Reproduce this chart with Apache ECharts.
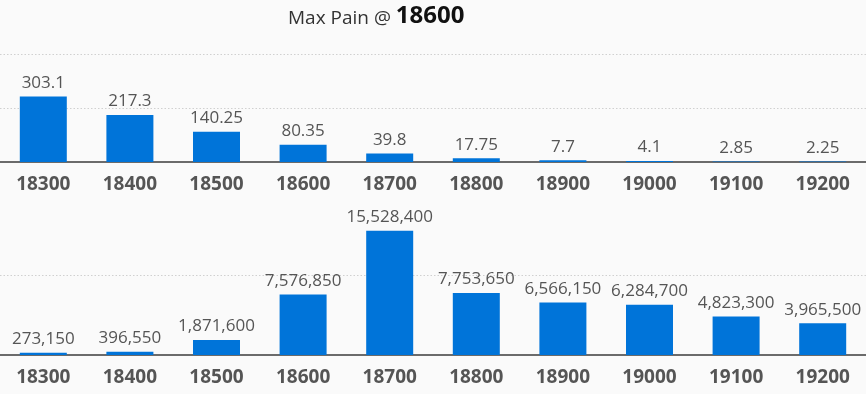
<!DOCTYPE html>
<html>
<head>
<meta charset="utf-8">
<script src="https://cdn.jsdelivr.net/npm/echarts@6/dist/echarts.min.js"></script>
<style>
html,body{margin:0;padding:0;background:#fafafa;}
#c{width:866px;height:394px;}
</style>
</head>
<body>
<div id="c"></div>
<script>
const strikes = ['18300','18400','18500','18600','18700','18800','18900','19000','19100','19200'];
const painValues = [303.1, 217.3, 140.25, 80.35, 39.8, 17.75, 7.7, 4.1, 2.85, 2.25];
const totalValues = [273150, 396550, 1871600, 7576850, 15528400, 7753650, 6566150, 6284700, 4823300, 3965500];
const titlePrefix = 'Max Pain @ ';
const titleStrike = '18600';

const FONT = '"Open Sans", "Noto Sans", sans-serif';
const BAR = '#0074d9';
const grid = '#d0d0d0';

function xAxis(idx) {
  return {
    type: 'category', gridIndex: idx, data: strikes,
    axisTick: {show: false},
    axisLine: {lineStyle: {color: '#6b6b6b', width: 2}},
    axisLabel: {color: '#555', fontFamily: FONT, fontWeight: 'bold', fontSize: 19, margin: 13}
  };
}

const chart = echarts.init(document.getElementById('c'));
chart.setOption({
  backgroundColor: '#fafafa',
  animation: false,
  title: {
    text: '{a|' + titlePrefix + '}{b|' + titleStrike + '}',
    left: 283, top: -1,
    textStyle: {
      fontWeight: 'normal',
      rich: {
        a: {fontFamily: FONT, fontSize: 19, fontWeight: 'normal', color: '#333', verticalAlign: 'bottom'},
        b: {fontFamily: FONT, fontSize: 24, fontWeight: 'bold', color: '#111', verticalAlign: 'bottom'}
      }
    }
  },
  grid: [
    {left: -4.5, width: 880, top: 54, height: 108},
    {left: -4.5, width: 880, top: 195, height: 160}
  ],
  xAxis: [xAxis(0), xAxis(1)],
  yAxis: [
    {type: 'value', gridIndex: 0, min: 0, max: 500, interval: 250,
     axisLabel: {show: false}, axisLine: {show: false}, axisTick: {show: false},
     splitLine: {lineStyle: {color: grid, type: [1.5, 2]}}},
    {type: 'value', gridIndex: 1, min: 0, max: 20000000, interval: 10000000,
     axisLabel: {show: false}, axisLine: {show: false}, axisTick: {show: false},
     splitLine: {lineStyle: {color: [grid, grid, 'rgba(0,0,0,0)'], type: [1.5, 2]}}}
  ],
  series: [
    {type: 'bar', xAxisIndex: 0, yAxisIndex: 0, data: painValues, barWidth: 47,
     itemStyle: {color: BAR},
     label: {show: true, position: 'top', distance: 5, color: '#555', fontFamily: FONT, fontSize: 17}},
    {type: 'bar', xAxisIndex: 1, yAxisIndex: 1, data: totalValues, barWidth: 47,
     itemStyle: {color: BAR},
     label: {show: true, position: 'top', distance: 5, color: '#555', fontFamily: FONT, fontSize: 17,
       formatter: p => p.value.toLocaleString('en-US')}}
  ]
});
</script>
</body>
</html>
